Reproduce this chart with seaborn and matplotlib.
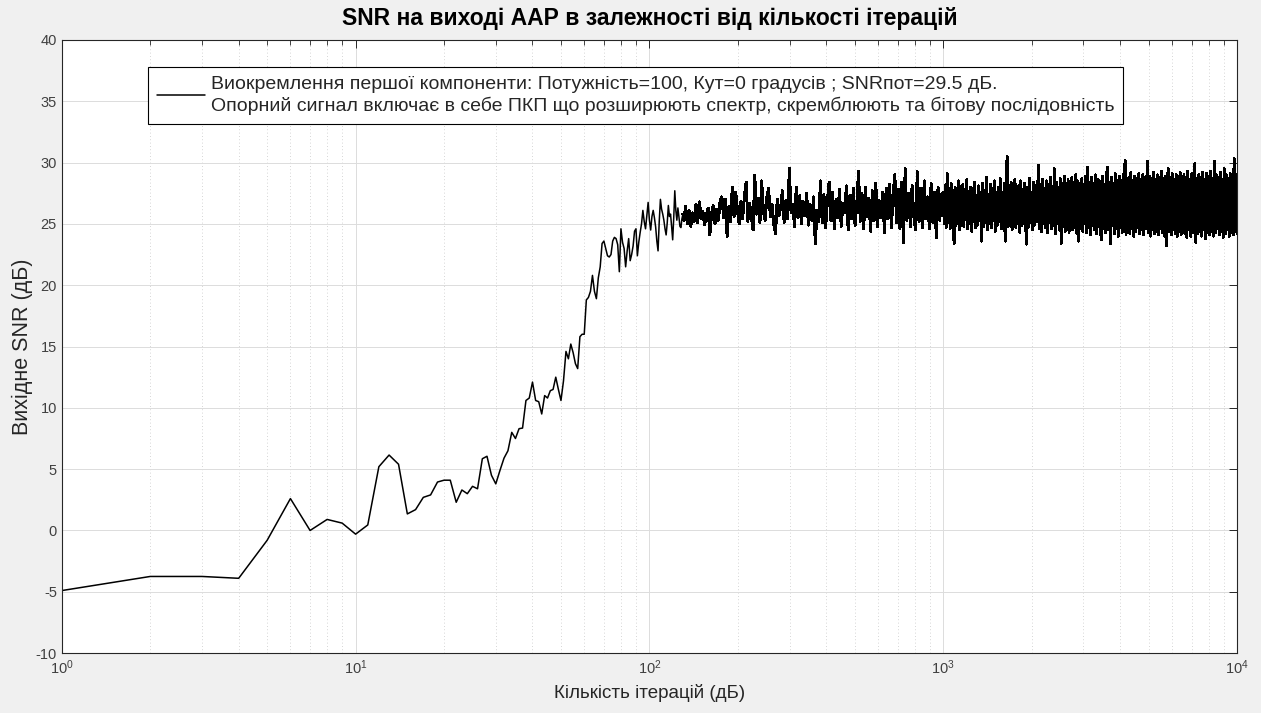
import numpy as np
import pandas as pd
import seaborn as sns
import matplotlib.pyplot as plt
from matplotlib.ticker import LogLocator, NullFormatter

# SNR per iteration, iterations 1..130
snr_first = [
    -4.9, -3.75, -3.75, -3.9, -0.8, 2.6, 0.0, 0.9, 0.6, -0.3,
    0.45, 5.2, 6.15, 5.4, 1.35, 1.7, 2.7, 2.9, 3.95, 4.1,
    4.1, 2.3, 3.3, 3.0, 3.6, 3.4, 5.85, 6.05, 4.5, 3.8,
    4.9, 5.9, 6.5, 8.0, 7.5, 8.3, 8.35, 10.6, 10.8, 12.1,
    10.6, 10.5, 9.5, 11.0, 10.8, 11.4, 11.5, 12.5, 11.5, 10.6,
    12.2, 14.6, 14.0, 15.2, 14.5, 13.6, 13.2, 15.8, 16.0, 16.0,
    18.8, 19.0, 19.5, 20.8, 19.5, 18.9, 20.6, 21.5, 23.4, 23.6,
    23.0, 22.4, 22.3, 22.5, 23.6, 23.9, 23.8, 23.3, 21.1, 24.6,
    23.5, 23.0, 21.5, 22.8, 23.8, 22.0, 22.5, 23.2, 24.4, 24.6,
    22.4, 23.5, 24.3, 25.0, 26.1, 25.2, 24.6, 25.7, 26.75, 25.3,
    24.5, 25.6, 26.1, 25.5, 24.75, 23.6, 22.8, 25.2, 27.0, 26.2,
    25.8, 25.3, 24.6, 24.1, 25.1, 26.5, 25.6, 25.8, 24.8, 23.7,
    25.5, 27.7, 26.1, 25.3, 26.3, 25.6, 24.8, 24.7, 25.4, 25.8,
]

# SNR samples between 131 and 1000 iterations (log-spaced readings)
snr_mid = [
    25.3, 26.4, 25.0, 26.1, 24.8, 25.9, 25.2, 26.6, 25.1, 26.8,
    25.4, 26.0, 24.9, 25.7, 26.3, 24.1, 25.8, 26.5, 25.0, 26.2,
    25.3, 26.9, 27.2, 25.5, 27.0, 24.0, 26.4, 25.2, 28.0, 25.6,
    27.6, 26.1, 25.0, 26.8, 25.4, 27.3, 28.4, 25.2, 26.7, 25.6,
    24.5, 28.95, 25.8, 27.1, 25.1, 28.5, 26.0, 25.3, 27.2, 27.9,
    25.6, 26.6, 25.0, 24.2, 27.0, 25.7, 26.4, 27.7, 25.1, 26.9,
    25.4, 29.5, 25.9, 26.6, 24.8, 28.0, 25.5, 27.3, 25.0, 26.8,
    25.7, 27.5, 24.9, 26.6, 25.3, 27.2, 23.4, 26.1, 25.2, 28.5,
    25.1, 27.4, 24.7, 26.9, 28.4, 25.3, 27.6, 24.6, 27.0, 25.5,
    27.8, 24.8, 26.7, 25.9, 28.1, 24.5, 27.3, 25.4, 27.9, 24.9,
    26.6, 29.3, 25.2, 27.5, 24.6, 28.0, 25.6, 27.1, 24.4, 27.7,
    25.3, 28.3, 24.8, 26.9, 25.5, 27.6, 24.3, 27.9, 25.4, 28.2,
    24.7, 27.3, 29.0, 25.1, 27.8, 24.6, 28.4, 23.5, 29.5, 25.3,
    27.5, 24.8, 28.1, 25.6, 24.5, 29.25, 25.2, 27.9, 24.7, 28.5,
    25.4, 27.2, 24.6, 28.3, 25.1, 27.6, 23.9, 28.0, 25.3, 27.4,
]

# SNR samples between 1000 and 10000 iterations (log-spaced readings)
snr_tail = [
    27.6, 25.0, 28.1, 24.7, 29.1, 25.3, 27.9, 24.6, 28.3, 25.1,
    27.4, 23.4, 28.0, 24.9, 27.7, 25.2, 28.5, 24.5, 27.2, 25.0,
    28.2, 24.8, 27.8, 25.4, 28.6, 24.6, 27.5, 25.0, 28.0, 24.4,
    27.9, 25.2, 28.4, 24.7, 27.3, 24.9, 28.1, 25.3, 27.6, 23.6,
    28.3, 24.8, 27.7, 25.1, 28.8, 24.5, 27.4, 25.0, 28.2, 24.7,
    27.9, 25.3, 28.5, 24.4, 27.6, 24.9, 28.0, 25.2, 28.7, 24.6,
    27.5, 24.9, 28.3, 23.6, 28.0, 30.5, 24.8, 27.7, 25.1, 28.4,
    24.5, 27.9, 25.0, 28.6, 24.7, 27.4, 25.2, 28.1, 24.3, 28.5,
    24.9, 27.8, 25.0, 28.3, 24.6, 23.35, 28.0, 24.8, 28.7, 25.1,
    27.6, 24.5, 28.4, 24.9, 28.1, 25.2, 27.7, 29.8, 24.6, 28.2,
    24.4, 28.6, 25.0, 27.9, 24.7, 28.5, 24.3, 28.2, 25.1, 28.8,
    24.6, 27.8, 24.9, 29.5, 24.2, 28.4, 25.0, 28.0, 24.5, 28.7,
    23.4, 28.3, 24.8, 28.9, 24.4, 28.1, 25.0, 28.6, 24.3, 28.4,
    24.9, 28.8, 24.5, 28.0, 24.7, 29.0, 24.2, 28.5, 23.6, 28.3,
    24.8, 28.7, 24.4, 28.2, 25.0, 28.9, 24.3, 29.6, 24.7, 28.4,
    24.1, 28.8, 24.9, 28.3, 24.5, 29.0, 24.2, 28.6, 24.8, 28.5,
    24.4, 23.7, 28.9, 24.6, 28.2, 24.3, 28.7, 29.6, 24.5, 28.4,
    23.4, 28.8, 24.9, 28.3, 24.2, 29.1, 24.6, 28.5, 24.0, 28.9,
    24.7, 28.4, 24.3, 29.0, 24.5, 30.2, 24.1, 28.6, 24.8, 28.8,
    24.2, 29.2, 24.6, 28.5, 24.0, 28.9, 24.4, 28.7, 24.7, 29.1,
    24.2, 28.6, 24.5, 29.0, 24.1, 28.8, 24.6, 28.4, 30.1, 24.3,
    28.9, 24.0, 28.7, 24.5, 29.2, 24.2, 28.6, 24.4, 29.0, 24.1,
    28.8, 24.6, 29.3, 24.3, 28.7, 24.0, 28.9, 23.2, 28.5, 29.5,
    24.4, 28.8, 24.1, 29.1, 24.5, 28.6, 24.2, 29.0, 24.0, 28.9,
    24.4, 29.2, 24.1, 28.7, 24.6, 29.0, 24.2, 28.8, 23.9, 29.3,
    24.5, 28.6, 24.0, 29.1, 24.3, 28.9, 29.9, 23.5, 28.7, 24.2,
    29.0, 24.4, 28.8, 24.0, 29.2, 24.5, 28.6, 23.8, 29.1, 24.3,
    28.9, 24.1, 29.3, 24.4, 28.7, 24.0, 30.1, 24.3, 29.0, 24.6,
    28.8, 24.1, 29.2, 24.4, 28.6, 23.9, 29.5, 24.2, 29.0, 24.5,
    28.7, 24.0, 29.1, 24.3, 28.9, 24.1, 30.3, 24.4, 29.0, 24.2,
]

y_ticks = list(range(-10, 41, 5))
legend_label = ("Виокремлення першої компоненти: Потужність=100, Кут=0 градусів ; SNRпот=29.5 дБ.\n"
                "Опорний сигнал включає в себе ПКП що розширюють спектр, скремблюють та бітову послідовність")

# iteration numbers for each block of readings
it_first = np.arange(1, len(snr_first) + 1)
it_mid = np.geomspace(131, 1000, len(snr_mid), endpoint=False)
it_tail = np.geomspace(1000, 10000, len(snr_tail))

df_first = pd.DataFrame({"iter": it_first, "snr": snr_first})
# the noisy part: in the original every iteration is a point, so the
# trace there is drawn heavier / unsmoothed to give the same dense band
df_noisy = pd.DataFrame({
    "iter": np.concatenate([[it_first[-1]], it_mid, it_tail]),
    "snr": [snr_first[-1]] + snr_mid + snr_tail,
})

sns.set_style("white")
plt.rcParams['font.family'] = ['Liberation Sans', 'DejaVu Sans']
plt.rcParams['axes.unicode_minus'] = False

fig = plt.figure(figsize=(12.61, 7.13), dpi=100, facecolor='#f0f0f0')
ax = fig.add_axes([0.049, 0.084, 0.932, 0.860])
ax.set_facecolor('white')

sns.lineplot(data=df_first, x="iter", y="snr", color='black', linewidth=1.1,
             estimator=None, sort=False, label=legend_label, ax=ax)
sns.lineplot(data=df_noisy, x="iter", y="snr", color='black', linewidth=1.4,
             estimator=None, sort=False, legend=False, antialiased=False, ax=ax)

ax.set_xscale('log')
ax.set_xlim(1, 1e4)
ax.set_ylim(-10, 40)
ax.set_yticks(y_ticks)
ax.xaxis.set_minor_locator(LogLocator(base=10, subs=np.arange(2, 10), numticks=20))
ax.xaxis.set_minor_formatter(NullFormatter())

ax.grid(True, which='major', color='#dcdcdc', linewidth=0.7)
ax.grid(True, which='minor', axis='x', color='#c8c8c8', linewidth=0.6, linestyle=(0, (1, 3)))
ax.set_axisbelow(True)

ax.tick_params(which='both', direction='in', top=True, right=True, colors='#262626',
               labelsize=10.5, labelcolor='#404040')
ax.tick_params(which='major', length=6, width=0.7)
ax.tick_params(which='minor', length=3.5, width=0.6)
for s in ax.spines.values():
    s.set_color('#262626')
    s.set_linewidth(0.8)

ax.set_title("SNR на виході ААР в залежності від кількості ітерацій",
             fontsize=16.5, fontweight='bold', color='black', pad=11)
ax.set_xlabel("Кількість ітерацій (дБ)", fontsize=13.5, color='#262626', labelpad=5)
ax.set_ylabel("Вихідне SNR (дБ)", fontsize=15.5, color='#262626', labelpad=2)

leg = ax.legend(loc='upper left', bbox_to_anchor=(0.0732, 0.956), fontsize=14,
                frameon=True, fancybox=False, framealpha=1, edgecolor='black',
                handlelength=2.5, borderpad=0.45, handletextpad=0.3,
                borderaxespad=0)
leg.get_frame().set_linewidth(0.8)
for t in leg.get_texts():
    t.set_linespacing(1.3)

fig.savefig('out.png', dpi=100, facecolor=fig.get_facecolor())
